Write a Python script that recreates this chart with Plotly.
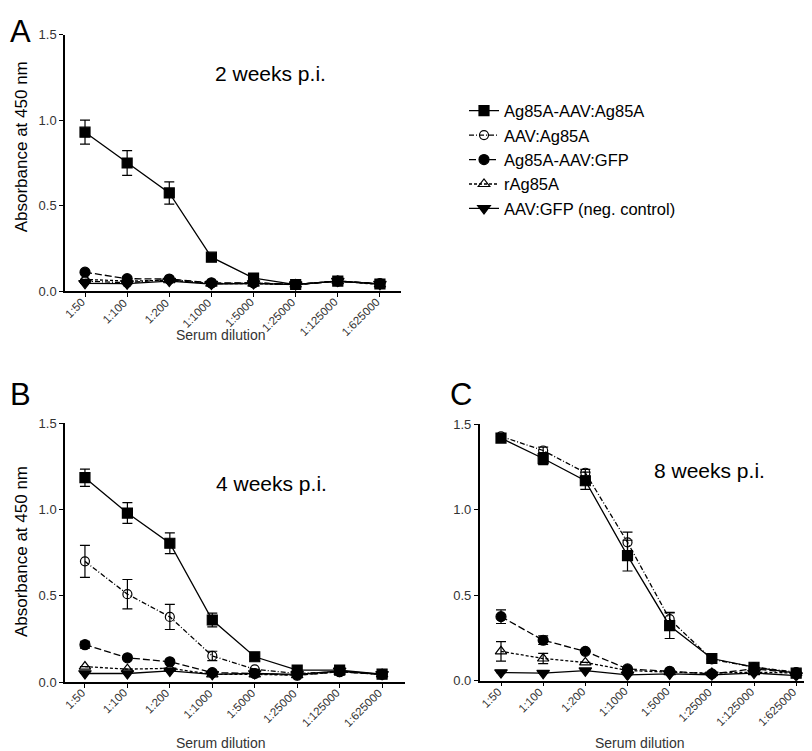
import plotly.graph_objects as go

# serum dilutions (x categories)
dilutions = ["1:50", "1:100", "1:200", "1:1000", "1:5000", "1:25000", "1:125000", "1:625000"]

series_names = ["Ag85A-AAV:Ag85A", "AAV:Ag85A", "Ag85A-AAV:GFP", "rAg85A", "AAV:GFP (neg. control)"]

# 2 weeks p.i.
w2_sq = [0.93, 0.75, 0.575, 0.20, 0.078, 0.04, 0.06, 0.043]
w2_sq_err = [0.07, 0.072, 0.065, 0.015, 0.0, 0.0, 0.0, 0.0]
w2_oc = [0.06, 0.05, 0.07, 0.045, 0.05, 0.04, 0.06, 0.045]
w2_fc = [0.112, 0.074, 0.072, 0.05, 0.05, 0.04, 0.06, 0.045]
w2_tr = [0.07, 0.06, 0.065, 0.045, 0.045, 0.04, 0.06, 0.04]
w2_dt = [0.047, 0.045, 0.06, 0.043, 0.046, 0.04, 0.06, 0.042]

# 4 weeks p.i.
w4_sq = [1.185, 0.98, 0.805, 0.36, 0.147, 0.07, 0.07, 0.046]
w4_sq_err = [0.05, 0.06, 0.06, 0.04, 0.0, 0.0, 0.0, 0.0]
w4_oc = [0.70, 0.51, 0.378, 0.152, 0.074, 0.05, 0.06, 0.045]
w4_oc_err = [0.093, 0.085, 0.073, 0.027, 0.0, 0.0, 0.0, 0.0]
w4_fc = [0.217, 0.141, 0.118, 0.055, 0.05, 0.04, 0.06, 0.045]
w4_fc_err = [0.02, 0.0, 0.0, 0.0, 0.0, 0.0, 0.0, 0.0]
w4_tr = [0.09, 0.075, 0.08, 0.045, 0.045, 0.04, 0.06, 0.045]
w4_dt = [0.05, 0.05, 0.065, 0.045, 0.05, 0.045, 0.065, 0.045]

# 8 weeks p.i.
w8_sq = [1.42, 1.30, 1.17, 0.732, 0.322, 0.13, 0.079, 0.044]
w8_sq_err = [0.02, 0.035, 0.05, 0.09, 0.075, 0.02, 0.0, 0.0]
w8_oc = [1.43, 1.347, 1.217, 0.81, 0.36, 0.125, 0.08, 0.05]
w8_oc_err = [0.0, 0.02, 0.02, 0.06, 0.04, 0.0, 0.0, 0.0]
w8_fc = [0.375, 0.237, 0.172, 0.069, 0.055, 0.04, 0.07, 0.045]
w8_fc_err = [0.04, 0.025, 0.0, 0.0, 0.0, 0.0, 0.0, 0.0]
w8_tr = [0.172, 0.13, 0.107, 0.06, 0.05, 0.045, 0.05, 0.045]
w8_tr_err = [0.057, 0.03, 0.0, 0.0, 0.0, 0.0, 0.0, 0.0]
w8_dt = [0.048, 0.044, 0.059, 0.034, 0.04, 0.035, 0.045, 0.03]

zeros = [0.0] * 8

panels = [
    ("x", "y", [w2_sq, w2_oc, w2_fc, w2_tr, w2_dt], [w2_sq_err, zeros, zeros, zeros, zeros]),
    ("x2", "y2", [w4_sq, w4_oc, w4_fc, w4_tr, w4_dt], [w4_sq_err, w4_oc_err, w4_fc_err, zeros, zeros]),
    ("x3", "y3", [w8_sq, w8_oc, w8_fc, w8_tr, w8_dt], [w8_sq_err, w8_oc_err, w8_fc_err, w8_tr_err, zeros]),
]

symbols = ["square", "circle-open", "circle", "triangle-up-open", "triangle-down"]
sizes = [10, 9, 10, 10, 11]
dashes = ["solid", "5px,2px,1px,2px", "7px,3px", "3px,2px", "solid"]

FONT = "Liberation Sans, Arial, sans-serif"

W, H = 812, 751


def px(x):
    return x / W


def py(y):
    return 1 - y / H


fig = go.Figure()

# draw lower series first so squares sit on top
order = [4, 3, 2, 1, 0]
for p, (xa, ya, vals, errs) in enumerate(panels):
    for i in order:
        fig.add_trace(go.Scatter(
            x=dilutions, y=vals[i], xaxis=xa, yaxis=ya,
            mode="lines+markers",
            name=series_names[i],
            legendgroup=series_names[i],
            legendrank=i + 1,
            showlegend=(p == 0),
            line=dict(color="black", width=1.3, dash=dashes[i]),
            marker=dict(symbol=symbols[i], size=sizes[i], color="black",
                        line=dict(color="black", width=1.2)),
            error_y=dict(type="data", array=errs[i], visible=True,
                         color="black", thickness=1.2, width=5),
        ))

axis_common = dict(
    showline=True, linecolor="black", linewidth=1.5,
    ticks="outside", ticklen=4, tickwidth=1.2, tickcolor="black",
    showgrid=False, zeroline=False,
    tickfont=dict(family=FONT, size=13, color="#333333"),
)

xa_common = dict(axis_common, type="category", showticklabels=False)
ya_common = dict(axis_common, range=[0, 1.5], tickvals=[0, 0.5, 1.0, 1.5], tickformat=".1f")

# pixel positions of each panel: (x-axis left, x-axis right, y of 0.0, y of 1.5)
boxes = {
    "x": (57, 393, 282, 20),
    "x2": (57, 397, 680.7, 416.7),
    "x3": (471.7, 808, 679.3, 417.7),
}

annots = []
# rotated dilution labels, one per category, placed on each x axis
for xa, (x0, x1, y0, y1) in boxes.items():
    for lab in dilutions:
        annots.append(dict(text=lab, x=lab, y=py(y0), xref=xa, yref="paper",
                           xanchor="right", yanchor="top", textangle=-45,
                           xshift=5, yshift=-2, showarrow=False,
                           font=dict(family=FONT, size=11.5, color="#333333")))

for txt, x, y in [("A", 0, -3), ("B", 0, 367), ("C", 440, 367)]:
    annots.append(dict(text=txt, x=px(x), y=py(y), xref="paper", yref="paper",
                       xanchor="left", yanchor="top", showarrow=False,
                       font=dict(family=FONT, size=31, color="black")))
for txt, x, y in [("2 weeks p.i.", 262, 60), ("4 weeks p.i.", 263, 478), ("8 weeks p.i.", 701, 465)]:
    annots.append(dict(text=txt, x=px(x), y=py(y), xref="paper", yref="paper",
                       xanchor="center", yanchor="middle", showarrow=False,
                       font=dict(family=FONT, size=21, color="black")))
for x, y in [(213, 327), (213, 743), (632, 743)]:
    annots.append(dict(text="Serum dilution", x=px(x), y=py(y), xref="paper", yref="paper",
                       xanchor="center", yanchor="middle", showarrow=False,
                       font=dict(family=FONT, size=14, color="#333333")))
for y in [135, 548]:
    annots.append(dict(text="Absorbance at 450 nm", x=px(13), y=py(y), xref="paper", yref="paper",
                       xanchor="center", yanchor="middle", textangle=-90, showarrow=False,
                       font=dict(family=FONT, size=17, color="black")))

fig.update_layout(
    width=W, height=H,
    margin=dict(l=0, r=0, t=0, b=0),
    paper_bgcolor="white", plot_bgcolor="white",
    font=dict(family=FONT, color="black"),
    xaxis=dict(xa_common, domain=[px(57), px(393)], range=[-0.475, 7.5], anchor="y"),
    yaxis=dict(ya_common, domain=[py(282), py(20)], anchor="x"),
    xaxis2=dict(xa_common, domain=[px(57), px(397)], range=[-0.47, 7.54], anchor="y2"),
    yaxis2=dict(ya_common, domain=[py(680.7), py(416.7)], anchor="x2"),
    xaxis3=dict(xa_common, domain=[px(471.7), px(808)], range=[-0.505, 7.47], anchor="y3"),
    yaxis3=dict(ya_common, domain=[py(679.3), py(417.7)], anchor="x3"),
    legend=dict(x=px(456), y=py(80), xanchor="left", yanchor="top",
                font=dict(family=FONT, size=16.5, color="black"),
                traceorder="grouped", itemwidth=30, tracegroupgap=0,
                bgcolor="rgba(0,0,0,0)"),
    annotations=annots,
)

fig.write_html("out.html")
